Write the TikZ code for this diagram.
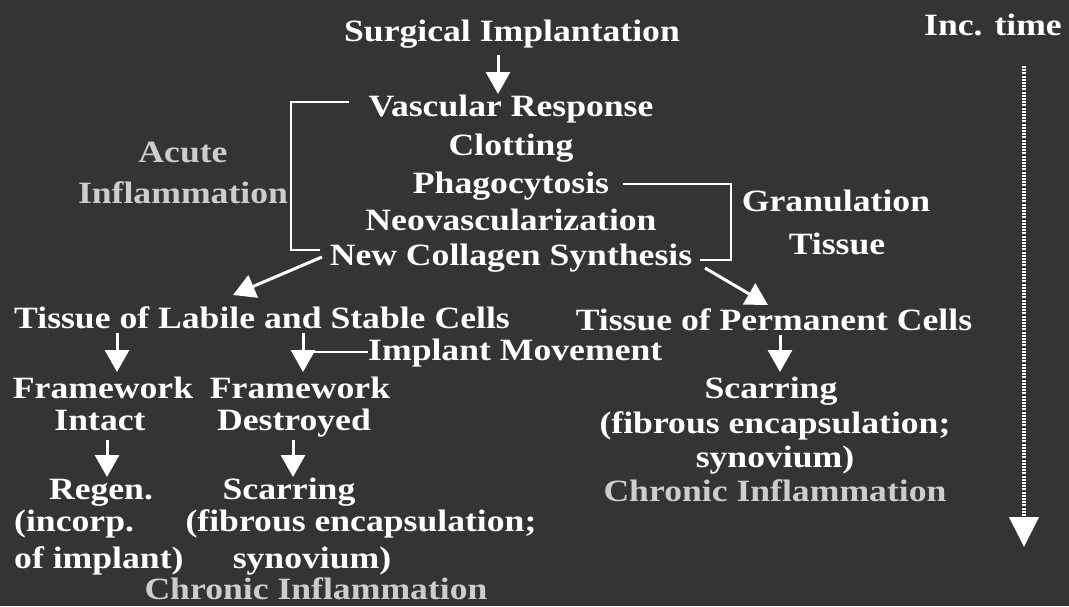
\documentclass[tikz,border=0pt]{standalone}
\usepackage{fontspec}
\setmainfont[FakeStretch=1.15]{Liberation Serif}
\usetikzlibrary{arrows.meta}
\definecolor{bg}{RGB}{52,52,52}
\definecolor{dim}{RGB}{205,205,205}
\begin{document}
\begin{tikzpicture}[x=1pt,y=-1pt,
  txt/.style={text=white,font=\fontsize{31}{33}\selectfont\bfseries,inner sep=0pt,anchor=base},
  dimtxt/.style={txt,text=dim},
  arr/.style={draw=white,line width=3pt,-{Triangle[width=24pt,length=22pt]}},
  brk/.style={draw=white,line width=1.6pt},
  timearr/.style={draw=white,line width=4pt,dash pattern=on 2pt off 1.2pt,-{Triangle[width=29pt,length=30pt]}}]
\fill[bg] (0,0) rectangle (1069,606);
\useasboundingbox (0,0) rectangle (1069,606);
% main column
\node[txt] (surg) at (512,41) {Surgical Implantation};
\node[txt] (vasc) at (511,116) {Vascular Response};
\node[txt] (clot) at (511,155) {Clotting};
\node[txt] (phag) at (511,193) {Phagocytosis};
\node[txt] (neo) at (511,230) {Neovascularization};
\node[txt] (coll) at (511,265) {New Collagen Synthesis};
\node[dimtxt] (acute) at (183,162) {Acute};
\node[dimtxt] (infl) at (183,203) {Inflammation};
\node[txt] (gran) at (836,211) {Granulation};
\node[txt] (gtis) at (837,254) {Tissue};
\node[txt,anchor=base west] (inc) at (924,35) {Inc. time};
% second level
\node[txt] (labile) at (262,328) {Tissue of Labile and Stable Cells};
\node[txt] (perm) at (774,330) {Tissue of Permanent Cells};
\node[txt,anchor=base west] (impl) at (368,360) {Implant Movement};
\node[txt] (fwi1) at (103,398) {Framework};
\node[txt] (fwi2) at (100,430) {Intact};
\node[txt] (fwd1) at (300,398) {Framework};
\node[txt] (fwd2) at (294,430) {Destroyed};
\node[txt] (regen) at (101,499) {Regen.};
\node[txt,anchor=base west] (inc1) at (14,531) {(incorp.};
\node[txt,anchor=base west] (inc2) at (14,568) {of implant)};
\node[txt] (scl1) at (289,499) {Scarring};
\node[txt] (scl2) at (361,531) {(fibrous encapsulation;};
\node[txt] (scl3) at (312,568) {synovium)};
\node[dimtxt] (chl) at (316,599) {Chronic Inflammation};
\node[txt] (scr1) at (771,398) {Scarring};
\node[txt] (scr2) at (775,433) {(fibrous encapsulation;};
\node[txt] (scr3) at (775,467) {synovium)};
\node[dimtxt] (chr) at (775,501) {Chronic Inflammation};
% arrow coordinates
\coordinate (a1s) at (498,55); \coordinate (a1e) at (498,94);
\coordinate (dls) at (322,257); \coordinate (dle) at (233,295);
\coordinate (drs) at (705,268); \coordinate (dre) at (768,305);
\coordinate (l1s) at (117,333); \coordinate (l1e) at (117,372);
\coordinate (l2s) at (303,333); \coordinate (l2e) at (303,372);
\coordinate (p1s) at (780,335); \coordinate (p1e) at (780,372);
\coordinate (f1s) at (107,440); \coordinate (f1e) at (107,477);
\coordinate (f2s) at (293,440); \coordinate (f2e) at (293,477);
\coordinate (imj) at (303,352);
\coordinate (ts) at (1024,66); \coordinate (te) at (1024,547);
\coordinate (bl1) at (349,102); \coordinate (bl2) at (291,250); \coordinate (bl3) at (320,250);
\coordinate (br1) at (623,184); \coordinate (br2) at (731,260); \coordinate (br3) at (700,260);
% connectors
\draw[arr] (a1s) -- (a1e);
\draw[arr] (dls) -- (dle);
\draw[arr] (drs) -- (dre);
\draw[arr] (l1s) -- (l1e);
\draw[arr] (l2s) -- (l2e);
\draw[arr] (p1s) -- (p1e);
\draw[arr] (f1s) -- (f1e);
\draw[arr] (f2s) -- (f2e);
\draw[brk] (imj) -- (imj -| impl.west);
\draw[brk] (bl1) -| (bl2) -- (bl3);
\draw[brk] (br1) -| (br2) -- (br3);
\draw[timearr] (ts) -- (te);
\end{tikzpicture}
\end{document}
